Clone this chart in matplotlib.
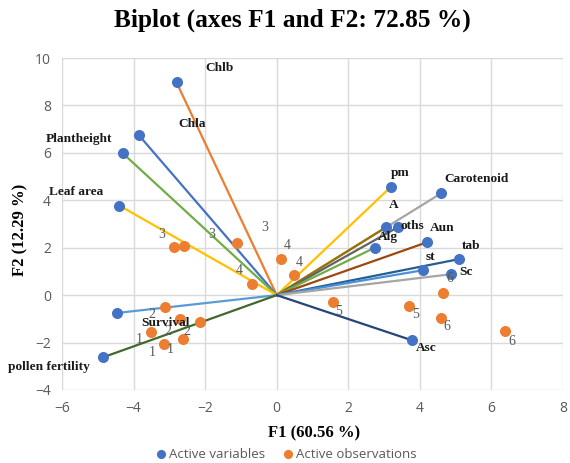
import matplotlib.pyplot as plt

# Variable loadings (F1, F2) scaled for the biplot
var_names = ['Chlb', 'Chla', 'Plantheight', 'Leaf area', 'Survival', 'pollen fertility',
             'pm', 'Carotenoid', 'A', 'oths', 'Alg', 'Aun', 'tab', 'st', 'Sc', 'Asc']
var_f1 = [-2.80, -3.85, -4.30, -4.40, -4.45, -4.85,
          3.18, 4.60, 3.05, 3.38, 2.74, 4.20, 5.10, 4.08, 4.86, 3.77]
var_f2 = [8.97, 6.74, 5.98, 3.78, -0.75, -2.62,
          4.55, 4.30, 2.86, 2.86, 2.00, 2.23, 1.52, 1.05, 0.88, -1.90]

# Observation scores, labelled by treatment group
obs_labels = ['3', '3', '3', '4', '4', '4', '2', '2', '2', '1', '1', '1',
              '5', '5', '6', '6', '6']
obs_f1 = [-2.86, -2.59, -1.10, 0.12, 0.47, -0.69, -3.13, -2.71, -2.13, -3.52, -3.15, -2.62,
          1.56, 3.69, 4.64, 4.58, 6.39]
obs_f2 = [2.01, 2.06, 2.20, 1.52, 0.84, 0.49, -0.52, -1.02, -1.12, -1.55, -2.06, -1.87,
          -0.31, -0.45, 0.10, -0.96, -1.52]

# styling
var_colors = ['#ED7D31', '#4472C4', '#70AD47', '#FFC000', '#5B9BD5', '#43682B',
              '#FFC000', '#A5A5A5', '#997300', '#636363', '#70AD47', '#9E480E',
              '#255E91', '#4A90D9', '#A5A5A5', '#264478']
var_offsets = [(43, 14), (53, 11), (-44, 14), (-43, 14), (48, -10), (-54, -10),
               (10, 14), (35, 14), (8, 22), (15, 1), (13, 11), (15, 14),
               (12, 13), (8, 13), (15, 2), (15, -8)]
obs_offsets = [(-13, 13), (28, 12), (27, 15), (6, 14), (6, 13), (-13, 13),
               (-13, -7), (-12, -12), (-14, -10), (-12, -8), (-12, -9), (-13, -10),
               (6, -9), (7, -9), (7, 14), (6, -9), (6, -10)]

BLUE = '#4472C4'
ORANGE = '#ED7D31'
GREY = '#595959'
SERIF = 'Liberation Serif'
SANS = 'Open Sans'

fig = plt.figure(figsize=(5.7, 4.63), dpi=100)
ax = fig.add_axes([0.1088, 0.1577, 0.8789, 0.717])

# vectors from the origin to each variable
for x, y, c in zip(var_f1, var_f2, var_colors):
    ax.plot([0, x], [0, y], color=c, lw=1.6, zorder=2)

ax.scatter(obs_f1, obs_f2, s=48, color=ORANGE, zorder=3, label='Active observations')
ax.scatter(var_f1, var_f2, s=48, color=BLUE, zorder=4, label='Active variables')

for name, x, y, off in zip(var_names, var_f1, var_f2, var_offsets):
    ax.annotate(name, (x, y), xytext=off, textcoords='offset pixels',
                ha='center', va='center', fontsize=9.6, fontweight='bold',
                family=SERIF, color='#1a1a1a', zorder=5)

for lab, x, y, off in zip(obs_labels, obs_f1, obs_f2, obs_offsets):
    ax.annotate(lab, (x, y), xytext=off, textcoords='offset pixels',
                ha='center', va='center', fontsize=10,
                family=SERIF, color=GREY, zorder=5)

ax.set_xlim(-6, 8)
ax.set_ylim(-4, 10)
ax.set_xticks(range(-6, 9, 2))
ax.set_yticks(range(-4, 11, 2))
ax.grid(True, color='#D9D9D9', lw=1)
ax.set_axisbelow(True)
for s in ax.spines.values():
    s.set_visible(False)
ax.tick_params(length=0, labelsize=10, labelcolor=GREY, pad=8)
for t in ax.get_xticklabels() + ax.get_yticklabels():
    t.set_family(SANS)

fig.text(0.035, 0.503, 'F2 (12.29 %)', ha='center', va='center', rotation=90,
         fontsize=12, fontweight='bold', family=SERIF)
fig.text(0.551, 0.065, 'F1 (60.56 %)', ha='center', va='center',
         fontsize=12, fontweight='bold', family=SERIF)
fig.text(0.513, 0.957, 'Biplot (axes F1 and F2: 72.85 %)', ha='center', va='center',
         fontsize=18.3, fontweight='bold', family=SERIF)

handles, labels = ax.get_legend_handles_labels()
leg = fig.legend(handles[::-1], labels[::-1], loc='center', bbox_to_anchor=(0.502, 0.019),
                 ncol=2, frameon=False, handlelength=0.8, handletextpad=0.2,
                 columnspacing=1.3, markerscale=0.8, borderpad=0,
                 prop={'family': SANS, 'size': 9.5})
for t in leg.get_texts():
    t.set_color(GREY)

fig.savefig('out.png', dpi=100)
